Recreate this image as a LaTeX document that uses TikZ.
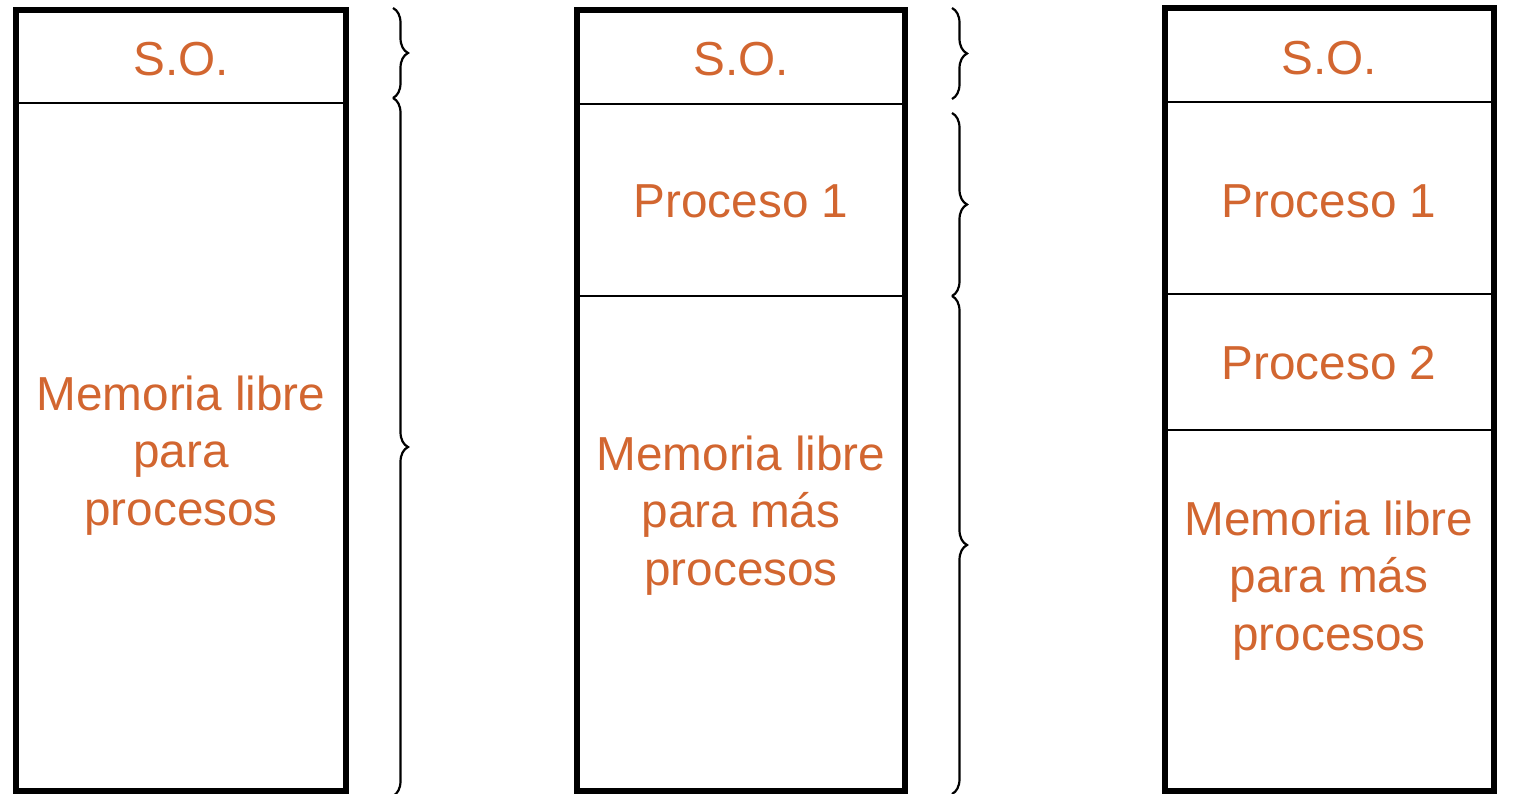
\documentclass[tikz,border=0pt]{standalone}
\usepackage{fontspec}
\setmainfont{Liberation Sans}
\usetikzlibrary{decorations.pathreplacing}
\definecolor{txt}{RGB}{210,102,48}
\begin{document}
\begin{tikzpicture}[x=1pt,y=-1pt,
  box/.style={line width=6pt},
  sep/.style={line width=2pt},
  lbl/.style={text=txt, font=\fontsize{47.7}{57.5}\selectfont, align=center, inner sep=0pt, anchor=base},
  brc/.style={decorate, decoration={brace, amplitude=15pt}, line width=2.2pt}]
\useasboundingbox (0,0) rectangle (1540,794);
% column 1
\draw[box] (16,10) rectangle (346,791);
\draw[sep] (16,103.5) -- (346,103.5);
\node[lbl] (so1) at (181,76) {S.O.};
\node[lbl] (mem1) at (181,525) {Memoria libre\\para\\procesos};
% column 2
\draw[box] (577,10.5) rectangle (905,791);
\draw[sep] (577,104) -- (905,104);
\draw[sep] (577,296) -- (905,296);
\node[lbl] (so2) at (741,76) {S.O.};
\node[lbl] (p21) at (741,218) {Proceso 1};
\node[lbl] (mem2) at (741,585) {Memoria libre\\para más\\procesos};
% column 3
\draw[box] (1164.5,8.5) rectangle (1494,791);
\draw[sep] (1164.5,102) -- (1494,102);
\draw[sep] (1164.5,294) -- (1494,294);
\draw[sep] (1164.5,430) -- (1494,430);
\node[lbl] (so3) at (1329,75) {S.O.};
\node[lbl] (p31) at (1329,218) {Proceso 1};
\node[lbl] (p32) at (1329,379) {Proceso 2};
\node[lbl] (mem3) at (1329,650) {Memoria libre\\para más\\procesos};
% braces
\coordinate (b1a) at (393,8);
\coordinate (b1b) at (393,98);
\coordinate (b1c) at (393,796);
\draw[brc] (b1a) -- (b1b);
\draw[brc] (b1b) -- (b1c);
\coordinate (b2a) at (952,8);
\coordinate (b2b) at (952,99);
\coordinate (b2c) at (952,113);
\coordinate (b2d) at (952,296);
\coordinate (b2e) at (952,794);
\draw[brc] (b2a) -- (b2b);
\draw[brc] (b2c) -- (b2d);
\draw[brc] (b2d) -- (b2e);
\end{tikzpicture}
\end{document}
